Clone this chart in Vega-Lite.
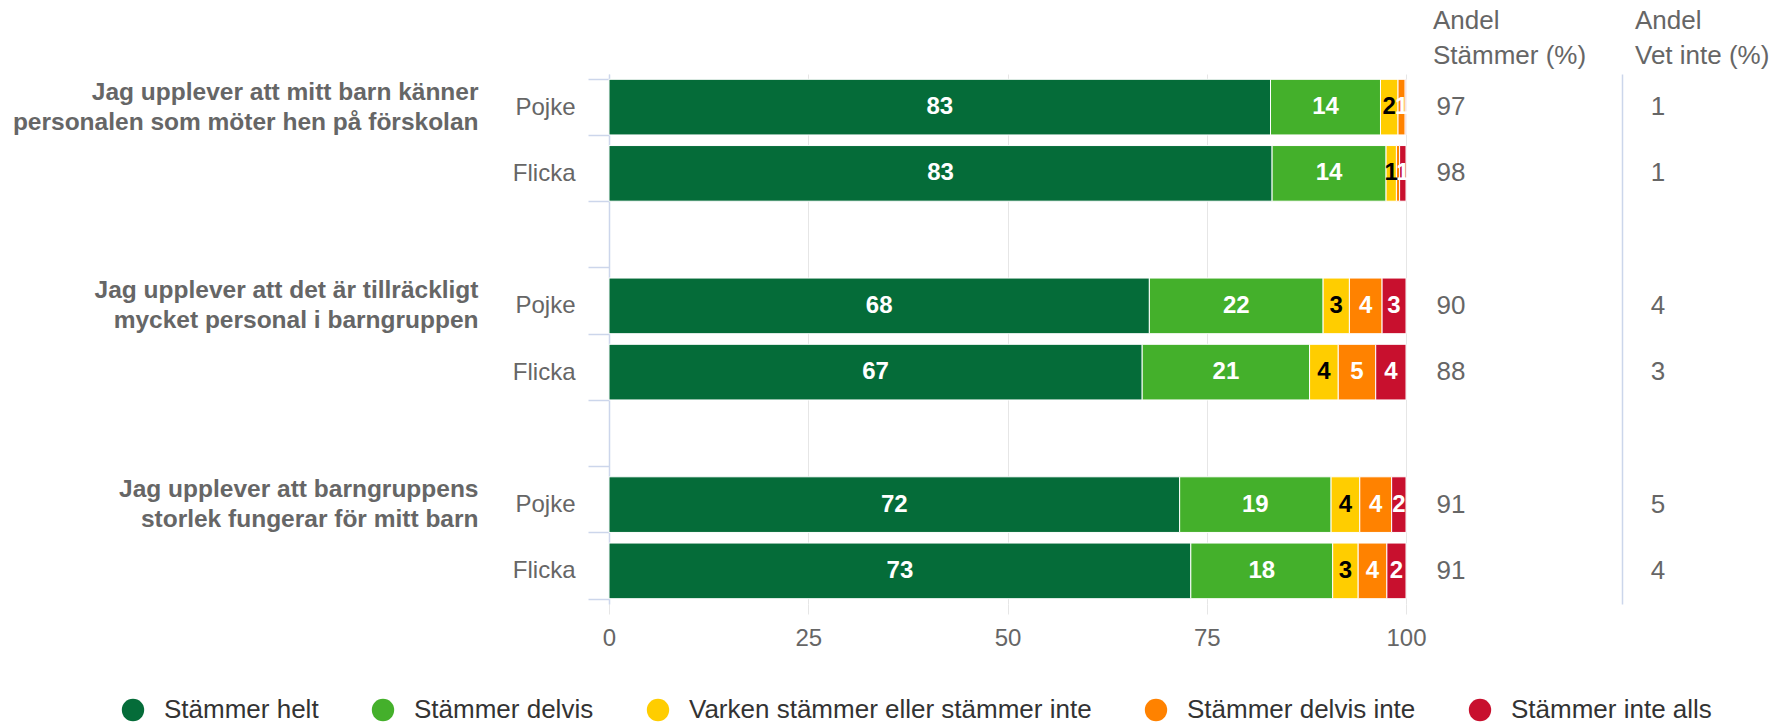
{
  "$schema": "https://vega.github.io/schema/vega-lite/v6.json",
  "padding": {"left": 12, "top": 8, "right": 5, "bottom": 0},
  "config": {"font": "Liberation Sans", "view": {"stroke": null}},
  "datasets": {
    "svar": [
      {"rad": "q1|Pojke", "kategori": "Stämmer helt", "nr": 1, "andel": 83.0},
      {"rad": "q1|Pojke", "kategori": "Stämmer delvis", "nr": 2, "andel": 13.8},
      {"rad": "q1|Pojke", "kategori": "Varken stämmer eller stämmer inte", "nr": 3, "andel": 2.2},
      {"rad": "q1|Pojke", "kategori": "Stämmer delvis inte", "nr": 4, "andel": 0.9},
      {"rad": "q1|Pojke", "kategori": "Stämmer inte alls", "nr": 5, "andel": 0.1},
      {"rad": "q1|Flicka", "kategori": "Stämmer helt", "nr": 1, "andel": 83.2},
      {"rad": "q1|Flicka", "kategori": "Stämmer delvis", "nr": 2, "andel": 14.3},
      {"rad": "q1|Flicka", "kategori": "Varken stämmer eller stämmer inte", "nr": 3, "andel": 1.3},
      {"rad": "q1|Flicka", "kategori": "Stämmer delvis inte", "nr": 4, "andel": 0.4},
      {"rad": "q1|Flicka", "kategori": "Stämmer inte alls", "nr": 5, "andel": 0.8},
      {"rad": "q2|Pojke", "kategori": "Stämmer helt", "nr": 1, "andel": 67.8},
      {"rad": "q2|Pojke", "kategori": "Stämmer delvis", "nr": 2, "andel": 21.8},
      {"rad": "q2|Pojke", "kategori": "Varken stämmer eller stämmer inte", "nr": 3, "andel": 3.3},
      {"rad": "q2|Pojke", "kategori": "Stämmer delvis inte", "nr": 4, "andel": 4.1},
      {"rad": "q2|Pojke", "kategori": "Stämmer inte alls", "nr": 5, "andel": 3.0},
      {"rad": "q2|Flicka", "kategori": "Stämmer helt", "nr": 1, "andel": 66.9},
      {"rad": "q2|Flicka", "kategori": "Stämmer delvis", "nr": 2, "andel": 21.0},
      {"rad": "q2|Flicka", "kategori": "Varken stämmer eller stämmer inte", "nr": 3, "andel": 3.6},
      {"rad": "q2|Flicka", "kategori": "Stämmer delvis inte", "nr": 4, "andel": 4.7},
      {"rad": "q2|Flicka", "kategori": "Stämmer inte alls", "nr": 5, "andel": 3.8},
      {"rad": "q3|Pojke", "kategori": "Stämmer helt", "nr": 1, "andel": 71.6},
      {"rad": "q3|Pojke", "kategori": "Stämmer delvis", "nr": 2, "andel": 19.0},
      {"rad": "q3|Pojke", "kategori": "Varken stämmer eller stämmer inte", "nr": 3, "andel": 3.6},
      {"rad": "q3|Pojke", "kategori": "Stämmer delvis inte", "nr": 4, "andel": 4.0},
      {"rad": "q3|Pojke", "kategori": "Stämmer inte alls", "nr": 5, "andel": 1.8},
      {"rad": "q3|Flicka", "kategori": "Stämmer helt", "nr": 1, "andel": 73.0},
      {"rad": "q3|Flicka", "kategori": "Stämmer delvis", "nr": 2, "andel": 17.8},
      {"rad": "q3|Flicka", "kategori": "Varken stämmer eller stämmer inte", "nr": 3, "andel": 3.2},
      {"rad": "q3|Flicka", "kategori": "Stämmer delvis inte", "nr": 4, "andel": 3.6},
      {"rad": "q3|Flicka", "kategori": "Stämmer inte alls", "nr": 5, "andel": 2.4}
    ],
    "grupper": [
      {"grupp": "Jag upplever att mitt barn känner\npersonalen som möter hen på förskolan"},
      {"grupp": "Jag upplever att det är tillräckligt\nmycket personal i barngruppen"},
      {"grupp": "Jag upplever att barngruppens\nstorlek fungerar för mitt barn"}
    ],
    "andel": [
      {"rad": "q1|Pojke", "stammer": 97, "vetinte": 1},
      {"rad": "q1|Flicka", "stammer": 98, "vetinte": 1},
      {"rad": "q2|Pojke", "stammer": 90, "vetinte": 4},
      {"rad": "q2|Flicka", "stammer": 88, "vetinte": 3},
      {"rad": "q3|Pojke", "stammer": 91, "vetinte": 5},
      {"rad": "q3|Flicka", "stammer": 91, "vetinte": 4}
    ]
  },
  "bounds": "flush",
  "spacing": 27,
  "hconcat": [
    {
      "width": 797,
      "height": 530,
      "layer": [
        {
          "data": {"name": "svar"},
          "transform": [{"stack": "andel", "groupby": ["rad"], "sort": [{"field": "nr", "order": "ascending"}], "as": ["x0", "x1"]}],
          "mark": {"type": "bar", "stroke": "white", "strokeWidth": 1},
          "encoding": {
            "y": {"field": "rad", "type": "nominal",
              "scale": {"domain": ["q1|Pojke", "q1|Flicka", "g1|", "q2|Pojke", "q2|Flicka", "g2|", "q3|Pojke", "q3|Flicka"], "paddingInner": 0.16, "paddingOuter": 0.08},
              "axis": {"title": null, "labelExpr": "split(datum.value, '|')[1] || ''", "tickBand": "extent", "domainColor": "#ccd6eb", "domainWidth": 1.5, "tickColor": "#ccd6eb", "tickWidth": 1.5, "tickSize": 21, "labelPadding": 13, "labelFontSize": 24, "labelColor": "#666666", "labelLimit": 0}},
            "x": {"field": "x0", "type": "quantitative", "scale": {"domain": [0, 100]},
              "axis": {"title": null, "values": [0, 25, 50, 75, 100], "grid": true, "gridColor": "#e6e6e6", "tickColor": "#e6e6e6", "tickSize": 10, "domain": false, "labelFontSize": 24, "labelColor": "#666666", "labelPadding": 12, "labelFlush": false, "labelOverlap": false}},
            "x2": {"field": "x1"},
            "color": {"field": "kategori", "type": "nominal",
              "sort": ["Stämmer helt", "Stämmer delvis", "Varken stämmer eller stämmer inte", "Stämmer delvis inte", "Stämmer inte alls"],
              "scale": {"domain": ["Stämmer helt", "Stämmer delvis", "Varken stämmer eller stämmer inte", "Stämmer delvis inte", "Stämmer inte alls"], "range": ["#056c39", "#44b02b", "#ffcd00", "#ff8200", "#c8102e"]},
              "legend": {"title": null, "orient": "none", "direction": "horizontal", "columns": 5, "legendX": -489, "legendY": 623, "symbolType": "circle", "symbolSize": 500, "symbolStrokeWidth": 0, "labelFontSize": 26, "labelColor": "#333333", "columnPadding": 51, "labelOffset": 18, "labelLimit": 0}}
          }
        },
        {
          "data": {"name": "svar"},
          "transform": [
            {"stack": "andel", "groupby": ["rad"], "sort": [{"field": "nr", "order": "ascending"}], "as": ["x0", "x1"]},
            {"fold": ["x0", "x1"], "as": ["kant", "pos"]},
            {"aggregate": [{"op": "mean", "field": "pos", "as": "mitt"}], "groupby": ["rad", "kategori", "andel"]},
            {"filter": "datum.andel >= 0.5"}
          ],
          "mark": {"type": "text", "fontSize": 24, "fontWeight": "bold"},
          "encoding": {
            "y": {"field": "rad", "type": "nominal",
              "scale": {"domain": ["q1|Pojke", "q1|Flicka", "g1|", "q2|Pojke", "q2|Flicka", "g2|", "q3|Pojke", "q3|Flicka"], "paddingInner": 0.16, "paddingOuter": 0.08},
              "axis": null},
            "x": {"field": "mitt", "type": "quantitative", "scale": {"domain": [0, 100]}},
            "text": {"field": "andel", "type": "quantitative", "format": ".0f"},
            "color": {"condition": {"test": "datum.kategori === 'Varken stämmer eller stämmer inte'", "value": "#000000"}, "value": "#ffffff"}
          }
        },
        {
          "data": {"name": "grupper"},
          "mark": {"type": "point", "opacity": 0},
          "encoding": {
            "y": {"field": "grupp", "type": "nominal",
              "scale": {"domain": ["Jag upplever att mitt barn känner\npersonalen som möter hen på förskolan", " ", "  ", "Jag upplever att det är tillräckligt\nmycket personal i barngruppen", "   ", "    ", "Jag upplever att barngruppens\nstorlek fungerar för mitt barn", "     "], "paddingInner": 0.16, "paddingOuter": 0.08},
              "axis": {"orient": "left", "title": null, "domain": false, "ticks": false, "tickSize": 0, "labelPadding": 131, "labelOffset": -15, "labelExpr": "split(datum.value, '\\n')", "labelFontSize": 24.5, "labelFontWeight": "bold", "labelColor": "#666666", "labelLimit": 0, "labelLineHeight": 30, "labelAlign": "right", "labelBaseline": "middle"}}
          }
        }
      ],
      "resolve": {"scale": {"y": "independent"}, "axis": {"y": "independent"}}
    },
    {
      "bounds": "flush",
      "spacing": 153,
      "hconcat": [
        {
          "data": {"name": "andel"},
          "width": 36,
          "height": 530,
          "title": {"text": ["Andel", "Stämmer (%)"], "anchor": "start", "frame": "group", "fontSize": 26, "fontWeight": "normal", "color": "#666666", "lineHeight": 35, "offset": 5},
          "mark": {"type": "text", "fontSize": 26, "color": "#666666"},
          "encoding": {
            "y": {"field": "rad", "type": "nominal",
              "scale": {"domain": ["q1|Pojke", "q1|Flicka", "g1|", "q2|Pojke", "q2|Flicka", "g2|", "q3|Pojke", "q3|Flicka"], "paddingInner": 0.16, "paddingOuter": 0.08},
              "axis": null},
            "text": {"field": "stammer", "type": "quantitative"}
          }
        },
        {
          "data": {"name": "andel"},
          "width": 72,
          "height": 530,
          "title": {"text": ["Andel", "Vet inte (%)"], "anchor": "start", "frame": "group", "dx": 13, "fontSize": 26, "fontWeight": "normal", "color": "#666666", "lineHeight": 35, "offset": 5},
          "mark": {"type": "text", "fontSize": 26, "color": "#666666"},
          "encoding": {
            "y": {"field": "rad", "type": "nominal",
              "scale": {"domain": ["q1|Pojke", "q1|Flicka", "g1|", "q2|Pojke", "q2|Flicka", "g2|", "q3|Pojke", "q3|Flicka"], "paddingInner": 0.16, "paddingOuter": 0.08},
              "axis": {"title": null, "labels": false, "ticks": false, "grid": false, "domainColor": "#ccd6eb", "domainWidth": 1.5}},
            "text": {"field": "vetinte", "type": "quantitative"}
          }
        }
      ]
    }
  ]
}
